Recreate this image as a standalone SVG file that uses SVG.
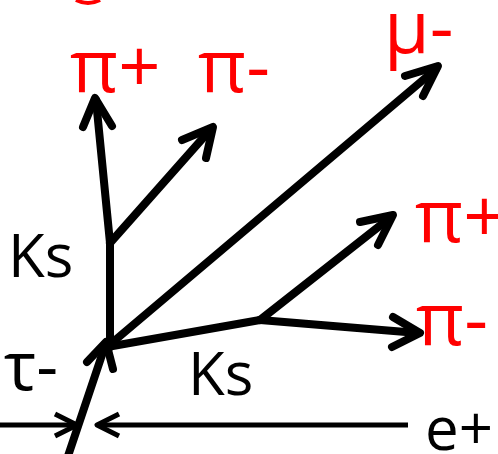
<svg xmlns="http://www.w3.org/2000/svg" width="498" height="454" viewBox="0 0 498 454">
<style>
.ln{fill:none;stroke:#000;stroke-width:8;stroke-linecap:round;stroke-linejoin:round}
.bm{fill:none;stroke:#000;stroke-width:5;stroke-linecap:butt;stroke-linejoin:round}
.t{font-family:"Open Sans","Noto Sans","Liberation Sans",sans-serif;font-size:60px;fill:#000}
.r{font-size:74px;fill:#ff0000}
</style>
<rect width="498" height="454" fill="#fff"/>
<path d="M76,0 Q88,6 100,0" fill="none" stroke="#ff0000" stroke-width="4"/>
<g id="connectors">
  <path class="ln" d="M66,462 L106,343"/>
  <path class="ln" d="M87,362 L106,342 L113,369"/>
  <path class="ln" d="M110,347 L110,243"/>
  <path class="ln" d="M110,243 L96,100"/>
  <path class="ln" d="M83,127 L95,98 L112,126"/>
  <path class="ln" d="M110,243 L211,129"/>
  <path class="ln" d="M182,140 L213,127 L206,158"/>
  <path class="ln" d="M107,347 L436,69"/>
  <path class="ln" d="M405,76 L438,66 L423,96"/>
  <path class="ln" d="M107,347 L260,320"/>
  <path class="ln" d="M260,320 L391,217"/>
  <path class="ln" d="M360,222 L393,215 L378,245"/>
  <path class="ln" d="M260,320 L418,333"/>
  <path class="ln" d="M393,317 L420,333 L392,347"/>
  <path class="bm" d="M0,425 L76,425"/>
  <path class="bm" d="M55,414 L77,425 L55,436"/>
  <path class="bm" d="M408,425 L98,425"/>
  <path class="bm" d="M119,414 L97,425 L119,436"/>
</g>
<g id="pi-plus-top"><text class="t r" x="70" y="92">π+</text></g>
<g id="pi-minus-top"><text class="t r" x="198" y="92">π-</text></g>
<g id="mu-minus"><text class="t r" x="384" y="53">μ-</text></g>
<g id="pi-plus-right"><text class="t r" x="415" y="242">π+</text></g>
<g id="pi-minus-right"><text class="t r" x="416" y="345">π-</text></g>
<g id="ks-left"><text class="t" x="8" y="277">Ks</text></g>
<g id="ks-bottom"><text class="t" x="188" y="395">Ks</text></g>
<g id="tau-minus"><text class="t" x="4" y="390" style="font-size:68px">τ-</text></g>
<g id="e-plus"><text class="t" x="425" y="450">e+</text></g>
</svg>
